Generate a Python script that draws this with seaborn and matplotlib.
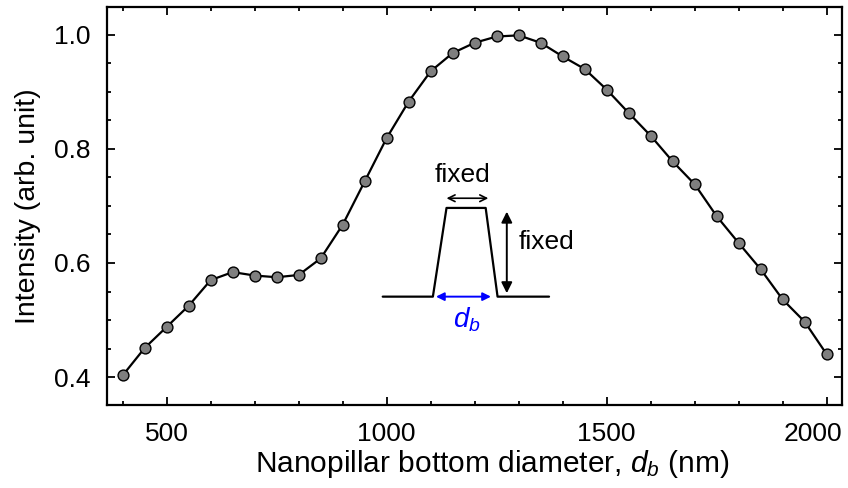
import matplotlib
matplotlib.use("Agg")
import matplotlib.pyplot as plt
from matplotlib.ticker import MultipleLocator
from matplotlib.transforms import ScaledTranslation
import seaborn as sns
import pandas as pd

diameter_nm = [400, 450, 500, 550, 600, 650, 700, 750, 800, 850, 900, 950, 1000,
               1050, 1100, 1150, 1200, 1250, 1300, 1350, 1400, 1450, 1500, 1550,
               1600, 1650, 1700, 1750, 1800, 1850, 1900, 1950, 2000]
intensity = [0.403, 0.451, 0.488, 0.525, 0.570, 0.584, 0.578, 0.575, 0.579, 0.608,
             0.667, 0.743, 0.819, 0.883, 0.936, 0.968, 0.986, 0.997, 0.999, 0.986,
             0.962, 0.940, 0.904, 0.863, 0.823, 0.778, 0.738, 0.682, 0.635, 0.589,
             0.536, 0.497, 0.440]
x_ticks = [500, 1000, 1500, 2000]
y_ticks = [0.4, 0.6, 0.8, 1.0]

# schematic of nanopillar (annotation outline)
pillar_x = [991, 1105, 1136, 1225, 1252, 1369]
pillar_y = [0.541, 0.541, 0.6965, 0.6965, 0.541, 0.541]

sns.set_theme(style="ticks")
plt.rcParams["font.family"] = ["Liberation Sans", "DejaVu Sans"]
plt.rcParams["mathtext.fontset"] = "custom"
plt.rcParams["mathtext.rm"] = "Liberation Sans"
plt.rcParams["mathtext.it"] = "Liberation Sans:italic"
for k in ["text.color", "axes.labelcolor", "xtick.color", "ytick.color", "axes.edgecolor"]:
    plt.rcParams[k] = "black"

fig = plt.figure(figsize=(8.48, 4.88), dpi=100)
ax = fig.add_axes([0.126, 0.170, 0.867, 0.816])

df = pd.DataFrame({"d": diameter_nm, "I": intensity})
sns.lineplot(data=df, x="d", y="I", ax=ax, color="black", linewidth=1.6,
             marker="o", markersize=7.8, markerfacecolor="#7f7f7f",
             markeredgecolor="black", markeredgewidth=1.0)

ax.set_xlim(364, 2035)
ax.set_ylim(0.351, 1.049)
ax.set_xticks(x_ticks)
ax.set_yticks(y_ticks)
ax.set_yticklabels([f"{v:.1f}" for v in y_ticks])
ax.xaxis.set_minor_locator(MultipleLocator(100))
ax.yaxis.set_minor_locator(MultipleLocator(0.05))
ax.tick_params(which="both", direction="in", top=True, right=True,
               width=1.3, labelsize=19, colors="black")
ax.tick_params(which="major", length=5.5)
ax.tick_params(axis="x", which="major", pad=12)
ax.tick_params(axis="y", which="major", pad=12)
ax.tick_params(which="minor", length=3)
for s in ax.spines.values():
    s.set_linewidth(1.6)
    s.set_color("black")

fig.canvas.draw()
lbl = ax.get_xticklabels()[-1]
lbl.set_transform(lbl.get_transform() + ScaledTranslation(-0.14, 0, fig.dpi_scale_trans))

ax.set_xlabel("Nanopillar bottom diameter, $d_b$ (nm)", fontsize=21.5)
ax.xaxis.set_label_coords(0.5 + 18 / 735, -0.108)
ax.xaxis.label.set_va("top")
ax.set_ylabel("Intensity (arb. unit)", fontsize=20.5, labelpad=9)

# inset schematic
ax.plot(pillar_x, pillar_y, color="black", linewidth=1.6)
ax.annotate("", xy=(1136, 0.7135), xytext=(1231, 0.7135),
            arrowprops=dict(arrowstyle="<->", color="black", lw=1.2,
                            shrinkA=0, shrinkB=0, mutation_scale=12))
ax.text(1173, 0.754, "fixed", fontsize=19, ha="center", va="center")
ax.annotate("", xy=(1273, 0.690), xytext=(1273, 0.547),
            arrowprops=dict(arrowstyle="<|-|>", color="black", lw=1.4,
                            shrinkA=0, shrinkB=0, mutation_scale=16))
ax.text(1300, 0.637, "fixed", fontsize=19, ha="left", va="center")
ax.annotate("", xy=(1112, 0.541), xytext=(1237, 0.541),
            arrowprops=dict(arrowstyle="<|-|>", color="blue", lw=1.4,
                            shrinkA=0, shrinkB=0, mutation_scale=12))
ax.text(1182, 0.500, "$d_b$", fontsize=20, ha="center", va="center", color="blue")

fig.savefig("out.png", dpi=100)
